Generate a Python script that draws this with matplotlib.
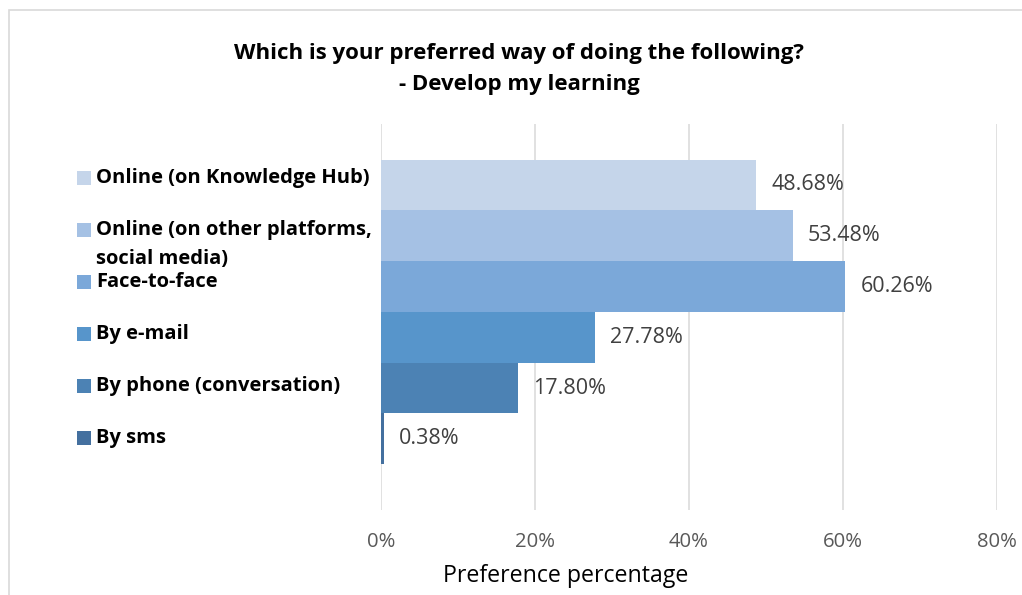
import matplotlib
matplotlib.use("Agg")
import matplotlib.pyplot as plt
from matplotlib.patches import Rectangle
from matplotlib.ticker import FuncFormatter

# data
categories = ["Online (on Knowledge Hub)",
              "Online (on other platforms,\nsocial media)",
              "Face-to-face",
              "By e-mail",
              "By phone (conversation)",
              "By sms"]
values = [48.68, 53.48, 60.26, 27.78, 17.80, 0.38]
colors = ["#C5D5EA", "#A5C1E4", "#7BA8D9", "#5795CB", "#4C82B4", "#44709F"]
xticks = [0, 20, 40, 60, 80]

title_lines = ["Which is your preferred way of doing the following?",
               "- Develop my learning"]
xlabel = "Preference percentage"

W, H = 1022, 595
plt.rcParams['font.family'] = ['Open Sans', 'DejaVu Sans']

fig = plt.figure(figsize=(W / 100, H / 100), dpi=100)
ax = fig.add_axes([381 / W, 1 - 510 / H, (997 - 381) / W, (510 - 124) / H])

ypos = list(range(len(values)))
bars = ax.barh(ypos, values, height=1.0, color=colors, zorder=2)
ax.bar_label(bars, labels=["%.2f%%" % v for v in values], padding=11,
             fontsize=15.5, color="#404040")

ax.set_xlim(0, 80)
ax.set_ylim(6.4, -1.2)
ax.set_xticks(xticks)
ax.xaxis.set_major_formatter(FuncFormatter(lambda x, p: "%d%%" % x))
ax.set_yticks([])
ax.tick_params(axis="x", length=0, pad=15.5, labelsize=14.6, labelcolor="#595959")
ax.grid(axis="x", color="#D9D9D9", linewidth=1.1, zorder=0)
for s in ax.spines.values():
    s.set_visible(False)

ax.set_xlabel(xlabel, fontsize=16.7, color="#000000")
ax.xaxis.set_label_coords(0.30, -0.172)
ax.xaxis.label.set_va("center")

# title, two lines
for k, line in enumerate(title_lines):
    fig.text(519 / W, 1 - (53 + 32 * k) / H, line, ha="center", va="center",
             fontsize=16, fontweight="bold")

# legend on the left
leg_y = [178, 230, 282.4, 334, 386, 438]
for cat, col, yy in zip(categories, colors, leg_y):
    fig.patches.append(Rectangle((77 / W, 1 - (yy + 7) / H), 14 / W, 14 / H,
                                 transform=fig.transFigure, facecolor=col,
                                 edgecolor="none"))
    lines = cat.split("\n")
    for k, line in enumerate(lines):
        fig.text(96 / W, 1 - (yy + 29 * k) / H, line, ha="left", va="center",
                 fontsize=14.5, fontweight="bold", color="#000000")

# chart frame
fig.patches.append(Rectangle((9 / W, -0.1), 1.2, 1.1 - 10 / H,
                             transform=fig.transFigure, facecolor="none",
                             edgecolor="#D9D9D9", linewidth=1.2))

fig.savefig("out.png", dpi=100)
